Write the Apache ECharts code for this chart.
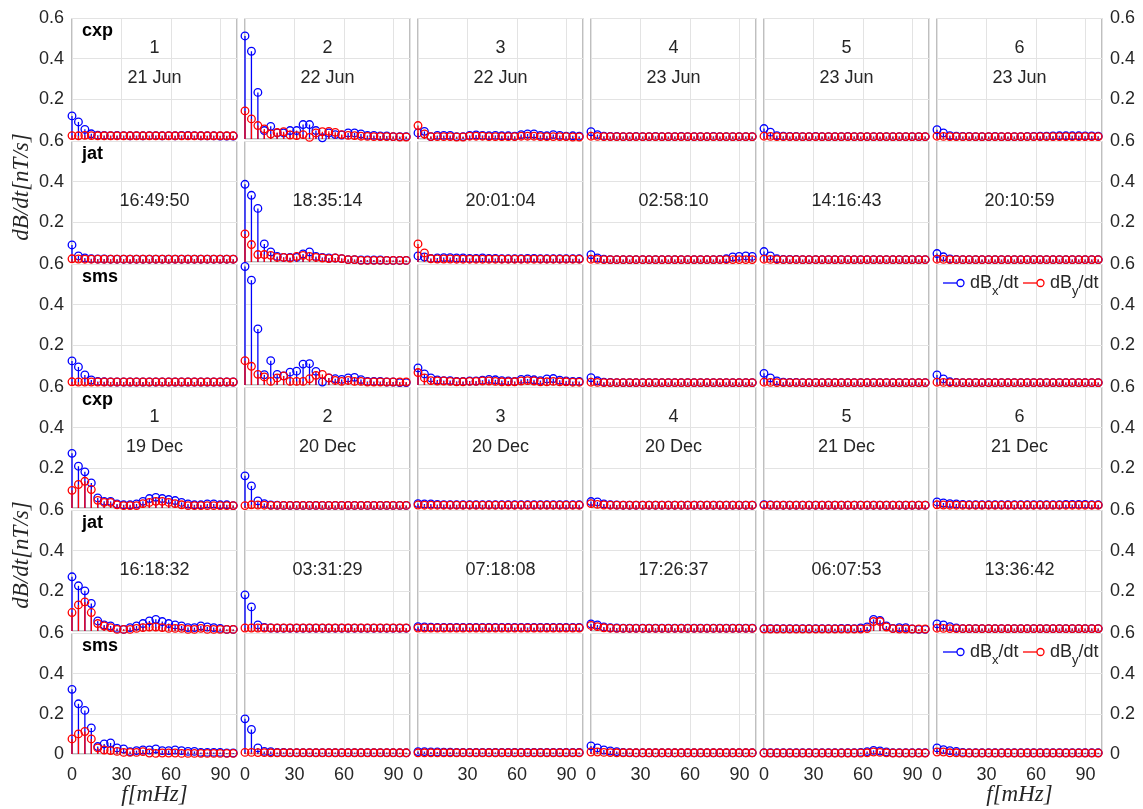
<!DOCTYPE html>
<html>
<head>
<meta charset="utf-8">
<script src="https://cdn.jsdelivr.net/npm/echarts@6/dist/echarts.min.js"></script>
<style>
html, body { margin: 0; padding: 0; background: #fff; }
#chart { width: 1143px; height: 809px; }
</style>
</head>
<body>
<div id="chart"></div>
<script>
// frequency bins (mHz), 1/256 s resolution
const freq = [0, 3.9, 7.8, 11.7, 15.6, 19.5, 23.4, 27.3, 31.3, 35.2, 39.1, 43.0, 46.9, 50.8, 54.7, 58.6, 62.5, 66.4, 70.3, 74.2, 78.1, 82.0, 85.9, 89.8, 93.8, 97.7];
const xTicks = [0, 30, 60, 90];
const yTicks = [0, 0.2, 0.4, 0.6];

const stations = ['cxp', 'jat', 'sms'];
const panelNums = ['1', '2', '3', '4', '5', '6'];
const junDates = ['21 Jun', '22 Jun', '22 Jun', '23 Jun', '23 Jun', '23 Jun'];
const junTimes = ['16:49:50', '18:35:14', '20:01:04', '02:58:10', '14:16:43', '20:10:59'];
const decDates = ['19 Dec', '20 Dec', '20 Dec', '20 Dec', '21 Dec', '21 Dec'];
const decTimes = ['16:18:32', '03:31:29', '07:18:08', '17:26:37', '06:07:53', '13:36:42'];

// dBx/dt and dBy/dt amplitude (nT/s), one row per event column
const junCxpBx = [
  [0.115,0.085,0.048,0.026,0.019,0.018,0.017,0.018,0.017,0.016,0.017,0.016,0.017,0.017,0.016,0.017,0.016,0.018,0.018,0.017,0.016,0.016,0.016,0.015,0.015,0.015],
  [0.513,0.437,0.232,0.042,0.063,0.030,0.030,0.042,0.042,0.072,0.072,0.042,0.006,0.030,0.022,0.020,0.030,0.030,0.025,0.018,0.018,0.015,0.015,0.012,0.012,0.012],
  [0.030,0.038,0.012,0.018,0.018,0.018,0.012,0.012,0.018,0.020,0.018,0.016,0.018,0.016,0.016,0.014,0.022,0.025,0.025,0.018,0.016,0.022,0.018,0.014,0.016,0.014],
  [0.036,0.022,0.014,0.013,0.013,0.012,0.012,0.013,0.012,0.012,0.013,0.012,0.012,0.012,0.013,0.012,0.012,0.012,0.012,0.013,0.012,0.012,0.012,0.012,0.012,0.012],
  [0.052,0.034,0.017,0.014,0.013,0.013,0.012,0.012,0.013,0.012,0.012,0.012,0.012,0.013,0.012,0.012,0.012,0.012,0.012,0.012,0.012,0.012,0.012,0.012,0.012,0.012],
  [0.046,0.030,0.017,0.014,0.013,0.013,0.012,0.012,0.012,0.013,0.012,0.012,0.012,0.012,0.013,0.013,0.014,0.014,0.015,0.016,0.016,0.016,0.016,0.015,0.015,0.014]
];
const junCxpBy = [
  [0.017,0.016,0.018,0.017,0.016,0.016,0.016,0.016,0.016,0.016,0.016,0.016,0.016,0.016,0.016,0.016,0.016,0.016,0.016,0.016,0.016,0.016,0.016,0.016,0.016,0.016],
  [0.140,0.100,0.067,0.050,0.025,0.032,0.036,0.020,0.017,0.022,0.008,0.030,0.036,0.038,0.033,0.022,0.018,0.017,0.014,0.013,0.012,0.012,0.012,0.012,0.010,0.010],
  [0.067,0.025,0.012,0.012,0.012,0.012,0.010,0.010,0.014,0.014,0.014,0.012,0.012,0.012,0.012,0.012,0.014,0.014,0.014,0.012,0.012,0.012,0.012,0.012,0.010,0.010],
  [0.014,0.013,0.012,0.012,0.012,0.012,0.012,0.012,0.012,0.012,0.012,0.012,0.012,0.012,0.012,0.012,0.012,0.012,0.012,0.012,0.012,0.012,0.012,0.012,0.012,0.012],
  [0.014,0.013,0.012,0.012,0.012,0.012,0.012,0.012,0.012,0.012,0.012,0.012,0.012,0.012,0.012,0.012,0.012,0.012,0.012,0.012,0.012,0.012,0.012,0.012,0.012,0.012],
  [0.014,0.013,0.012,0.012,0.012,0.012,0.012,0.012,0.012,0.012,0.012,0.012,0.012,0.012,0.012,0.012,0.012,0.012,0.012,0.012,0.012,0.012,0.012,0.012,0.012,0.012]
];
const junJatBx = [
  [0.085,0.030,0.020,0.016,0.015,0.015,0.014,0.014,0.014,0.014,0.014,0.014,0.014,0.014,0.014,0.014,0.014,0.014,0.014,0.014,0.014,0.014,0.014,0.014,0.014,0.014],
  [0.387,0.332,0.267,0.090,0.050,0.028,0.023,0.023,0.023,0.040,0.050,0.028,0.023,0.020,0.020,0.017,0.012,0.012,0.010,0.010,0.010,0.010,0.008,0.008,0.008,0.008],
  [0.030,0.025,0.018,0.020,0.022,0.022,0.020,0.020,0.018,0.018,0.020,0.018,0.018,0.016,0.016,0.016,0.016,0.018,0.018,0.016,0.016,0.016,0.016,0.016,0.016,0.016],
  [0.036,0.020,0.014,0.012,0.012,0.012,0.012,0.012,0.012,0.012,0.012,0.012,0.012,0.012,0.012,0.012,0.012,0.012,0.012,0.012,0.013,0.016,0.025,0.028,0.030,0.028],
  [0.052,0.030,0.016,0.013,0.013,0.013,0.012,0.012,0.012,0.012,0.012,0.012,0.012,0.012,0.012,0.012,0.012,0.012,0.012,0.012,0.012,0.012,0.012,0.012,0.012,0.012],
  [0.042,0.026,0.015,0.013,0.012,0.012,0.012,0.012,0.012,0.012,0.012,0.012,0.012,0.012,0.012,0.012,0.012,0.012,0.012,0.012,0.012,0.012,0.012,0.012,0.012,0.012]
];
const junJatBy = [
  [0.016,0.015,0.014,0.014,0.014,0.014,0.014,0.014,0.014,0.014,0.014,0.014,0.014,0.014,0.014,0.014,0.014,0.014,0.014,0.014,0.014,0.014,0.014,0.014,0.014,0.014],
  [0.140,0.087,0.037,0.037,0.033,0.023,0.023,0.020,0.028,0.033,0.028,0.023,0.020,0.017,0.020,0.017,0.012,0.012,0.008,0.008,0.008,0.008,0.008,0.008,0.008,0.008],
  [0.090,0.045,0.016,0.015,0.015,0.015,0.014,0.014,0.014,0.014,0.014,0.014,0.014,0.014,0.014,0.014,0.014,0.014,0.014,0.014,0.014,0.014,0.014,0.014,0.014,0.014],
  [0.014,0.013,0.012,0.012,0.012,0.012,0.012,0.012,0.012,0.012,0.012,0.012,0.012,0.012,0.012,0.012,0.012,0.012,0.012,0.012,0.012,0.012,0.012,0.012,0.012,0.012],
  [0.014,0.013,0.012,0.012,0.012,0.012,0.012,0.012,0.012,0.012,0.012,0.012,0.012,0.012,0.012,0.012,0.012,0.012,0.012,0.012,0.012,0.012,0.012,0.012,0.012,0.012],
  [0.014,0.013,0.012,0.012,0.012,0.012,0.012,0.012,0.012,0.012,0.012,0.012,0.012,0.012,0.012,0.012,0.012,0.012,0.012,0.012,0.012,0.012,0.012,0.012,0.012,0.012]
];
const junSmsBx = [
  [0.120,0.090,0.050,0.025,0.018,0.016,0.015,0.015,0.015,0.015,0.015,0.015,0.015,0.015,0.015,0.015,0.015,0.015,0.015,0.015,0.015,0.015,0.015,0.015,0.015,0.015],
  [0.590,0.522,0.279,0.051,0.121,0.053,0.045,0.064,0.069,0.104,0.106,0.068,0.015,0.035,0.031,0.028,0.035,0.038,0.027,0.018,0.018,0.018,0.015,0.015,0.012,0.012],
  [0.085,0.055,0.035,0.025,0.022,0.022,0.018,0.018,0.020,0.020,0.024,0.028,0.026,0.022,0.020,0.018,0.028,0.030,0.026,0.022,0.030,0.032,0.024,0.020,0.018,0.018],
  [0.036,0.021,0.014,0.013,0.012,0.012,0.012,0.012,0.012,0.012,0.012,0.012,0.012,0.012,0.012,0.012,0.012,0.012,0.012,0.012,0.012,0.012,0.012,0.012,0.012,0.012],
  [0.058,0.035,0.020,0.014,0.013,0.013,0.012,0.012,0.012,0.012,0.012,0.012,0.012,0.012,0.012,0.012,0.012,0.012,0.012,0.012,0.012,0.012,0.012,0.012,0.012,0.012],
  [0.050,0.030,0.016,0.013,0.012,0.012,0.012,0.012,0.012,0.012,0.012,0.012,0.012,0.012,0.012,0.012,0.012,0.012,0.012,0.012,0.012,0.012,0.012,0.012,0.012,0.012]
];
const junSmsBy = [
  [0.016,0.015,0.015,0.015,0.015,0.015,0.015,0.015,0.015,0.015,0.015,0.015,0.015,0.015,0.015,0.015,0.015,0.015,0.015,0.015,0.015,0.015,0.015,0.015,0.015,0.015],
  [0.121,0.093,0.053,0.040,0.018,0.035,0.045,0.018,0.018,0.018,0.031,0.048,0.053,0.035,0.023,0.018,0.023,0.018,0.018,0.015,0.015,0.015,0.015,0.015,0.015,0.015],
  [0.062,0.035,0.022,0.020,0.020,0.018,0.016,0.016,0.018,0.018,0.020,0.020,0.018,0.016,0.016,0.016,0.020,0.022,0.020,0.016,0.016,0.018,0.016,0.016,0.014,0.014],
  [0.014,0.013,0.012,0.012,0.012,0.012,0.012,0.012,0.012,0.012,0.012,0.012,0.012,0.012,0.012,0.012,0.012,0.012,0.012,0.012,0.012,0.012,0.012,0.012,0.012,0.012],
  [0.014,0.013,0.012,0.012,0.012,0.012,0.012,0.012,0.012,0.012,0.012,0.012,0.012,0.012,0.012,0.012,0.012,0.012,0.012,0.012,0.012,0.012,0.012,0.012,0.012,0.012],
  [0.014,0.013,0.012,0.012,0.012,0.012,0.012,0.012,0.012,0.012,0.012,0.012,0.012,0.012,0.012,0.012,0.012,0.012,0.012,0.012,0.012,0.012,0.012,0.012,0.012,0.012]
];
const decCxpBx = [
  [0.272,0.208,0.180,0.125,0.050,0.033,0.033,0.020,0.016,0.016,0.020,0.033,0.047,0.053,0.047,0.042,0.037,0.028,0.020,0.016,0.016,0.020,0.020,0.016,0.016,0.012],
  [0.160,0.110,0.035,0.022,0.015,0.014,0.013,0.013,0.013,0.013,0.013,0.013,0.013,0.013,0.013,0.013,0.013,0.013,0.013,0.013,0.013,0.013,0.013,0.013,0.013,0.013],
  [0.022,0.020,0.020,0.018,0.017,0.016,0.016,0.016,0.016,0.016,0.016,0.016,0.016,0.016,0.016,0.016,0.016,0.016,0.016,0.016,0.016,0.016,0.016,0.016,0.016,0.016],
  [0.032,0.030,0.020,0.016,0.015,0.014,0.014,0.014,0.014,0.014,0.014,0.014,0.014,0.014,0.014,0.014,0.014,0.014,0.014,0.014,0.014,0.014,0.014,0.014,0.014,0.014],
  [0.017,0.015,0.014,0.014,0.014,0.014,0.014,0.014,0.014,0.014,0.014,0.014,0.014,0.014,0.014,0.014,0.014,0.014,0.014,0.014,0.014,0.014,0.014,0.014,0.014,0.014],
  [0.030,0.025,0.022,0.020,0.018,0.016,0.016,0.016,0.016,0.016,0.016,0.016,0.016,0.016,0.016,0.016,0.016,0.016,0.016,0.016,0.018,0.018,0.018,0.018,0.016,0.016]
];
const decCxpBy = [
  [0.088,0.117,0.133,0.092,0.038,0.028,0.028,0.016,0.012,0.012,0.012,0.022,0.028,0.033,0.033,0.028,0.022,0.016,0.012,0.012,0.012,0.012,0.012,0.012,0.012,0.012],
  [0.012,0.016,0.015,0.014,0.013,0.013,0.013,0.013,0.013,0.013,0.013,0.013,0.013,0.013,0.013,0.013,0.013,0.013,0.013,0.013,0.013,0.013,0.013,0.013,0.013,0.013],
  [0.015,0.014,0.014,0.014,0.014,0.014,0.014,0.014,0.014,0.014,0.014,0.014,0.014,0.014,0.014,0.014,0.014,0.014,0.014,0.014,0.014,0.014,0.014,0.014,0.014,0.014],
  [0.022,0.018,0.015,0.014,0.014,0.014,0.014,0.014,0.014,0.014,0.014,0.014,0.014,0.014,0.014,0.014,0.014,0.014,0.014,0.014,0.014,0.014,0.014,0.014,0.014,0.014],
  [0.014,0.014,0.014,0.014,0.014,0.014,0.014,0.014,0.014,0.014,0.014,0.014,0.014,0.014,0.014,0.014,0.014,0.014,0.014,0.014,0.014,0.014,0.014,0.014,0.014,0.014],
  [0.016,0.015,0.014,0.014,0.014,0.014,0.014,0.014,0.014,0.014,0.014,0.014,0.014,0.014,0.014,0.014,0.014,0.014,0.014,0.014,0.014,0.014,0.014,0.014,0.014,0.014]
];
const decJatBx = [
  [0.270,0.225,0.200,0.137,0.050,0.030,0.025,0.013,0.008,0.017,0.025,0.037,0.050,0.058,0.047,0.037,0.030,0.025,0.017,0.017,0.025,0.020,0.017,0.013,0.008,0.008],
  [0.180,0.120,0.030,0.018,0.015,0.014,0.014,0.014,0.014,0.014,0.014,0.014,0.014,0.014,0.014,0.014,0.014,0.014,0.014,0.014,0.014,0.014,0.014,0.014,0.014,0.014],
  [0.022,0.020,0.019,0.018,0.018,0.018,0.018,0.018,0.018,0.018,0.018,0.018,0.018,0.018,0.018,0.018,0.018,0.018,0.018,0.018,0.018,0.018,0.018,0.018,0.018,0.018],
  [0.035,0.030,0.020,0.016,0.015,0.014,0.014,0.014,0.014,0.014,0.014,0.014,0.014,0.014,0.014,0.014,0.014,0.014,0.014,0.014,0.014,0.014,0.014,0.014,0.014,0.014],
  [0.012,0.012,0.012,0.012,0.012,0.012,0.012,0.012,0.012,0.012,0.012,0.012,0.013,0.013,0.012,0.015,0.020,0.058,0.053,0.025,0.013,0.017,0.017,0.010,0.008,0.008],
  [0.035,0.030,0.022,0.015,0.012,0.012,0.012,0.012,0.012,0.012,0.012,0.012,0.012,0.012,0.012,0.012,0.012,0.012,0.012,0.012,0.012,0.012,0.012,0.012,0.012,0.012]
];
const decJatBy = [
  [0.092,0.130,0.145,0.092,0.037,0.025,0.017,0.008,0.008,0.008,0.013,0.017,0.020,0.020,0.017,0.013,0.013,0.013,0.008,0.008,0.013,0.008,0.008,0.008,0.008,0.008],
  [0.015,0.015,0.015,0.015,0.015,0.015,0.015,0.015,0.015,0.015,0.015,0.015,0.015,0.015,0.015,0.015,0.015,0.015,0.015,0.015,0.015,0.015,0.015,0.015,0.015,0.015],
  [0.015,0.015,0.015,0.015,0.015,0.015,0.015,0.015,0.015,0.015,0.015,0.015,0.015,0.015,0.015,0.015,0.015,0.015,0.015,0.015,0.015,0.015,0.015,0.015,0.015,0.015],
  [0.028,0.022,0.016,0.014,0.013,0.013,0.013,0.013,0.013,0.013,0.013,0.013,0.013,0.013,0.013,0.013,0.013,0.013,0.013,0.013,0.013,0.013,0.013,0.013,0.013,0.013],
  [0.010,0.010,0.010,0.010,0.010,0.010,0.010,0.010,0.010,0.010,0.010,0.010,0.010,0.010,0.010,0.010,0.012,0.047,0.047,0.020,0.012,0.010,0.010,0.010,0.010,0.010],
  [0.014,0.013,0.012,0.012,0.012,0.012,0.012,0.012,0.012,0.012,0.012,0.012,0.012,0.012,0.012,0.012,0.012,0.012,0.012,0.012,0.012,0.012,0.012,0.012,0.012,0.012]
];
const decSmsBx = [
  [0.322,0.250,0.217,0.130,0.037,0.050,0.055,0.030,0.025,0.012,0.017,0.020,0.020,0.025,0.017,0.017,0.020,0.017,0.013,0.013,0.008,0.008,0.008,0.008,0.005,0.005],
  [0.175,0.122,0.030,0.013,0.012,0.008,0.008,0.007,0.007,0.007,0.007,0.007,0.007,0.007,0.007,0.007,0.007,0.007,0.007,0.007,0.007,0.007,0.007,0.007,0.006,0.006],
  [0.012,0.012,0.010,0.010,0.009,0.009,0.008,0.008,0.008,0.008,0.008,0.008,0.008,0.008,0.008,0.008,0.008,0.008,0.008,0.008,0.008,0.008,0.008,0.008,0.008,0.008],
  [0.040,0.030,0.020,0.015,0.012,0.008,0.007,0.006,0.006,0.006,0.006,0.006,0.006,0.006,0.006,0.006,0.006,0.006,0.006,0.006,0.006,0.006,0.006,0.006,0.006,0.006],
  [0.006,0.006,0.006,0.006,0.006,0.006,0.006,0.006,0.006,0.006,0.006,0.006,0.006,0.006,0.006,0.008,0.012,0.018,0.015,0.010,0.006,0.006,0.006,0.006,0.006,0.006],
  [0.030,0.022,0.017,0.013,0.008,0.006,0.006,0.006,0.006,0.006,0.006,0.006,0.006,0.006,0.006,0.006,0.006,0.006,0.006,0.006,0.006,0.006,0.006,0.006,0.006,0.006]
];
const decSmsBy = [
  [0.075,0.100,0.112,0.075,0.030,0.020,0.017,0.013,0.008,0.008,0.008,0.012,0.005,0.003,0.005,0.005,0.005,0.003,0.003,0.003,0.003,0.003,0.003,0.003,0.003,0.003],
  [0.008,0.008,0.007,0.007,0.006,0.006,0.006,0.006,0.006,0.006,0.006,0.006,0.006,0.006,0.006,0.006,0.006,0.006,0.006,0.006,0.006,0.006,0.006,0.006,0.006,0.006],
  [0.006,0.006,0.006,0.006,0.006,0.006,0.006,0.006,0.006,0.006,0.006,0.006,0.006,0.006,0.006,0.006,0.006,0.006,0.006,0.006,0.006,0.006,0.006,0.006,0.006,0.006],
  [0.010,0.010,0.008,0.007,0.006,0.006,0.006,0.006,0.006,0.006,0.006,0.006,0.006,0.006,0.006,0.006,0.006,0.006,0.006,0.006,0.006,0.006,0.006,0.006,0.006,0.006],
  [0.005,0.005,0.005,0.005,0.005,0.005,0.005,0.005,0.005,0.005,0.005,0.005,0.005,0.005,0.005,0.005,0.006,0.010,0.008,0.006,0.005,0.005,0.005,0.005,0.005,0.005],
  [0.010,0.010,0.006,0.006,0.005,0.005,0.005,0.005,0.005,0.005,0.005,0.005,0.005,0.005,0.005,0.005,0.005,0.005,0.005,0.005,0.005,0.005,0.005,0.005,0.005,0.005]
];

const rowsBx = [junCxpBx, junJatBx, junSmsBx, decCxpBx, decJatBx, decSmsBx];
const rowsBy = [junCxpBy, junJatBy, junSmsBy, decCxpBy, decJatBy, decSmsBy];

const BLUE = '#0000ff', RED = '#ff0000';
const sans = 'Liberation Sans, Arial, Helvetica, sans-serif';
const serif = 'Liberation Serif, DejaVu Serif, serif';
const txt = '#262626';

const colLeft = [72, 245, 418, 591, 764, 937];
const panelW = 165, panelH = 120.5;
function rowTop(r) { return 18.5 + r * 123; }

const myChart = echarts.init(document.getElementById('chart'));

const grids = [], xAxes = [], yAxes = [], blueSeries = [], redSeries = [], graphics = [];

function stem(color, gi, vals) {
  return {
    type: 'custom',
    xAxisIndex: gi,
    yAxisIndex: gi,
    silent: true,
    clip: false,
    data: freq.map((f, i) => [f, vals[i]]),
    renderItem: function (params, api) {
      const p0 = api.coord([api.value(0), 0]);
      const p1 = api.coord([api.value(0), api.value(1)]);
      return {
        type: 'group',
        children: [
          { type: 'line', shape: { x1: p0[0], y1: p0[1], x2: p1[0], y2: p1[1] },
            style: { stroke: color, lineWidth: 1.3 } },
          { type: 'circle', shape: { cx: p1[0], cy: p1[1], r: 3.8 },
            style: { fill: 'none', stroke: color, lineWidth: 1.3 } }
        ]
      };
    }
  };
}

for (let r = 0; r < 6; r++) {
  for (let c = 0; c < 6; c++) {
    const gi = r * 6 + c;
    const left = colLeft[c], top = rowTop(r);
    grids.push({ left: left, top: top, width: panelW, height: panelH,
      show: true, borderColor: '#7f7f7f', borderWidth: 1, backgroundColor: '#fff' });
    xAxes.push({
      gridIndex: gi, type: 'value', min: xTicks[0], max: 100, interval: 30,
      axisLine: { show: false }, axisTick: { show: false },
      splitLine: { show: true, lineStyle: { color: '#e3e3e3', width: 1 } },
      axisLabel: { show: r === 5, showMaxLabel: false, fontSize: 18, color: txt, fontFamily: sans, margin: 12 }
    });
    yAxes.push({
      gridIndex: gi, type: 'value', min: yTicks[0], max: yTicks[3], interval: 0.2,
      position: c === 5 ? 'right' : 'left',
      axisLine: { show: false }, axisTick: { show: false },
      splitLine: { show: true, lineStyle: { color: '#e3e3e3', width: 1 } },
      axisLabel: {
        show: c === 0 || c === 5, fontSize: 18, color: txt, fontFamily: sans, margin: 8,
        formatter: function (v) {
          if (Math.abs(v) < 1e-9) return r === 5 ? '0' : '';
          return v.toFixed(1);
        }
      }
    });
    blueSeries.push(stem(BLUE, gi, rowsBx[r][c]));
    redSeries.push(stem(RED, gi, rowsBy[r][c]));

    const cx = left + panelW / 2;
    if (c === 0) {
      graphics.push({ type: 'text', z: 100, x: left + 10, y: top + 13,
        style: { text: stations[r % 3], fontSize: 18, fontWeight: 'bold', fill: '#000', fontFamily: sans,
          align: 'left', verticalAlign: 'middle' } });
    }
    if (r === 0 || r === 3) {
      graphics.push({ type: 'text', z: 100, x: cx, y: top + 30,
        style: { text: panelNums[c], fontSize: 18, fill: txt, fontFamily: sans, align: 'center', verticalAlign: 'middle' } });
      graphics.push({ type: 'text', z: 100, x: cx, y: top + 60,
        style: { text: (r === 0 ? junDates : decDates)[c], fontSize: 18, fill: txt, fontFamily: sans, align: 'center', verticalAlign: 'middle' } });
    }
    if (r === 1 || r === 4) {
      graphics.push({ type: 'text', z: 100, x: cx, y: top + 60,
        style: { text: (r === 1 ? junTimes : decTimes)[c], fontSize: 18, fill: txt, fontFamily: sans, align: 'center', verticalAlign: 'middle' } });
    }
  }
}

// legends inside last column of each sms row
[2, 5].forEach(function (r) {
  const y = rowTop(r) + 18.5;
  const items = [[943, BLUE, 'x'], [1023, RED, 'y']];
  items.forEach(function (it) {
    const x0 = it[0];
    graphics.push({ type: 'line', z: 100, shape: { x1: x0, y1: y, x2: x0 + 14, y2: y }, style: { stroke: it[1], lineWidth: 1.3 } });
    graphics.push({ type: 'circle', z: 100, shape: { cx: x0 + 17.5, cy: y, r: 3.5 }, style: { fill: 'none', stroke: it[1], lineWidth: 1.3 } });
    graphics.push({ type: 'text', z: 100, x: x0 + 27, y: y,
      style: {
        text: '{n|dB}{s|' + it[2] + '}{n|/dt}', fill: txt, fontFamily: sans, align: 'left', verticalAlign: 'middle',
        rich: {
          n: { fontSize: 18, lineHeight: 30, fill: txt, fontFamily: sans },
          s: { fontSize: 13, lineHeight: 14, verticalAlign: 'bottom', fill: txt, fontFamily: sans }
        }
      } });
  });
});

// axis titles
[187, 555].forEach(function (y) {
  graphics.push({ type: 'text', z: 100, x: 22, y: y, rotation: Math.PI / 2,
    style: { text: 'dB/dt[nT/s]', fontSize: 23, fontStyle: 'italic', fill: txt, fontFamily: serif,
      align: 'center', verticalAlign: 'middle' } });
});
[colLeft[0], colLeft[5]].forEach(function (l) {
  graphics.push({ type: 'text', z: 100, x: l + panelW / 2, y: 795,
    style: { text: 'f[mHz]', fontSize: 23, fontStyle: 'italic', fill: txt, fontFamily: serif,
      align: 'center', verticalAlign: 'middle' } });
});

const option = {
  animation: false,
  backgroundColor: '#fff',
  grid: grids,
  xAxis: xAxes,
  yAxis: yAxes,
  series: blueSeries.concat(redSeries),
  graphic: graphics
};
myChart.setOption(option);
</script>
</body>
</html>
